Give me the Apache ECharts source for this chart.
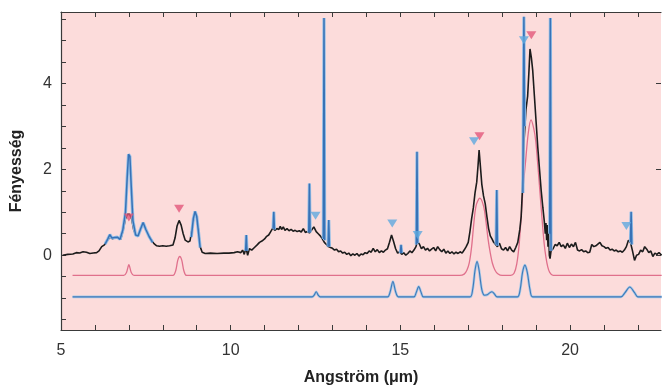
<!DOCTYPE html>
<html>
<head>
<meta charset="utf-8">
<script src="https://cdn.jsdelivr.net/npm/echarts@6/dist/echarts.min.js"></script>
<style>
  html, body { margin: 0; padding: 0; background: #fff; }
  #chart { width: 662px; height: 387px; }
</style>
</head>
<body>
<div id="chart"></div>
<script>
// measured spectrum (black)
var observed = [
  [5.05, 0.0], [5.2, 0.02], [5.35, 0.03], [5.45, 0.06], [5.55, 0.05], [5.65, 0.08], [5.75, 0.07],
  [5.85, 0.04], [5.95, 0.05], [6.05, 0.06], [6.12, 0.1], [6.2, 0.2], [6.28, 0.24], [6.34, 0.32],
  [6.4, 0.38], [6.46, 0.42], [6.52, 0.38], [6.58, 0.41], [6.64, 0.42], [6.7, 0.39], [6.76, 0.37],
  [6.83, 0.58], [6.9, 0.85], [6.96, 0.95], [7.02, 0.95], [7.08, 0.85], [7.14, 0.6], [7.2, 0.47],
  [7.27, 0.44], [7.34, 0.6], [7.42, 0.73], [7.5, 0.6], [7.58, 0.47], [7.66, 0.36], [7.74, 0.27],
  [7.82, 0.22], [7.9, 0.21], [8.0, 0.22], [8.1, 0.21], [8.2, 0.22], [8.3, 0.24], [8.36, 0.4],
  [8.42, 0.68], [8.48, 0.81], [8.54, 0.7], [8.6, 0.5], [8.66, 0.35], [8.74, 0.31], [8.8, 0.33],
  [8.86, 0.6], [8.92, 0.9], [8.96, 0.98], [9.0, 0.9], [9.05, 0.6], [9.1, 0.2], [9.16, 0.07],
  [9.25, 0.04], [9.4, 0.05], [9.6, 0.04], [9.8, 0.05], [9.95, 0.05], [10.1, 0.06], [10.2, 0.08],
  [10.3, 0.06], [10.35, 0.12], [10.4, 0.02], [10.45, 0.18], [10.5, 0.0], [10.55, 0.15], [10.62, 0.12],
  [10.7, 0.18], [10.78, 0.24], [10.85, 0.3], [10.92, 0.33], [11.0, 0.38], [11.06, 0.44], [11.12, 0.47],
  [11.18, 0.55], [11.24, 0.63], [11.3, 0.58], [11.36, 0.62], [11.42, 0.6], [11.46, 0.67], [11.5, 0.6],
  [11.55, 0.66], [11.6, 0.58], [11.66, 0.62], [11.72, 0.57], [11.78, 0.6], [11.84, 0.56], [11.9, 0.58],
  [11.96, 0.55], [12.02, 0.57], [12.08, 0.54], [12.14, 0.62], [12.2, 0.53], [12.26, 0.55], [12.32, 0.52],
  [12.38, 0.58], [12.45, 0.66], [12.52, 0.55], [12.58, 0.5], [12.64, 0.45], [12.7, 0.38], [12.76, 0.3],
  [12.82, 0.25], [12.88, 0.2], [12.94, 0.18], [13.0, 0.16], [13.06, 0.12], [13.12, 0.14], [13.18, 0.08],
  [13.24, 0.1], [13.3, 0.05], [13.36, 0.07], [13.42, 0.02], [13.48, 0.05], [13.54, -0.01], [13.6, 0.03],
  [13.66, 0.0], [13.72, 0.04], [13.78, -0.02], [13.84, 0.03], [13.9, 0.01], [13.96, 0.06], [14.02, 0.04],
  [14.08, 0.1], [14.14, 0.07], [14.2, 0.16], [14.26, 0.08], [14.32, 0.13], [14.38, 0.06], [14.44, 0.1],
  [14.5, 0.07], [14.56, 0.12], [14.62, 0.15], [14.68, 0.3], [14.74, 0.47], [14.8, 0.32], [14.86, 0.15],
  [14.92, 0.05], [14.98, 0.08], [15.04, 0.02], [15.1, 0.06], [15.16, 0.0], [15.22, 0.04], [15.28, 0.1],
  [15.34, 0.06], [15.4, 0.12], [15.46, 0.2], [15.5, 0.32], [15.56, 0.26], [15.62, 0.15], [15.68, 0.2],
  [15.74, 0.12], [15.8, 0.16], [15.86, 0.1], [15.92, 0.14], [15.98, 0.18], [16.04, 0.1], [16.1, 0.2],
  [16.16, 0.13], [16.22, 0.08], [16.28, 0.14], [16.34, 0.05], [16.4, 0.1], [16.46, 0.04], [16.52, 0.08],
  [16.58, 0.03], [16.64, 0.07], [16.7, 0.04], [16.76, 0.08], [16.82, 0.05], [16.88, 0.12], [16.94, 0.2],
  [17.0, 0.3], [17.05, 0.55], [17.1, 0.85], [17.15, 1.1], [17.2, 1.45], [17.25, 1.7], [17.29, 2.1],
  [17.32, 2.45], [17.36, 2.05], [17.4, 1.65], [17.45, 1.38], [17.5, 1.2], [17.55, 0.9], [17.6, 0.62],
  [17.65, 0.45], [17.7, 0.38], [17.75, 0.3], [17.8, 0.26], [17.86, 0.2], [17.92, 0.28], [17.98, 0.15],
  [18.04, 0.12], [18.1, 0.18], [18.16, 0.1], [18.22, 0.2], [18.28, 0.12], [18.34, 0.08], [18.4, 0.18],
  [18.46, 0.3], [18.52, 0.6], [18.56, 0.9], [18.6, 1.6], [18.64, 2.6], [18.7, 3.38], [18.75, 3.7],
  [18.79, 4.3], [18.82, 4.8], [18.86, 4.6], [18.9, 4.3], [18.95, 3.7], [19.0, 3.1], [19.05, 2.5],
  [19.1, 2.0], [19.15, 1.5], [19.2, 1.1], [19.24, 0.8], [19.27, 0.5], [19.29, 0.75], [19.31, 0.35],
  [19.33, 0.7], [19.35, 0.2], [19.37, 0.55], [19.39, 0.0], [19.41, -0.08], [19.44, 0.1], [19.5, 0.15],
  [19.56, 0.25], [19.62, 0.22], [19.68, 0.3], [19.74, 0.2], [19.8, 0.24], [19.86, 0.16], [19.92, 0.28],
  [19.98, 0.18], [20.04, 0.26], [20.1, 0.2], [20.16, 0.3], [20.22, 0.12], [20.28, 0.1], [20.34, 0.13],
  [20.4, 0.08], [20.46, 0.1], [20.52, 0.06], [20.58, 0.07], [20.64, 0.25], [20.7, 0.2], [20.76, 0.22],
  [20.82, 0.26], [20.88, 0.3], [20.94, 0.22], [21.0, 0.2], [21.06, 0.16], [21.12, 0.18], [21.18, 0.12],
  [21.24, 0.14], [21.3, 0.1], [21.36, 0.12], [21.42, 0.08], [21.48, 0.1], [21.54, 0.07], [21.6, 0.12],
  [21.66, 0.2], [21.72, 0.35], [21.78, 0.3], [21.84, 0.1], [21.9, -0.12], [21.96, 0.0], [22.02, 0.02],
  [22.08, 0.12], [22.14, 0.08], [22.2, 0.2], [22.26, 0.14], [22.32, 0.06], [22.38, 0.1], [22.44, -0.03],
  [22.5, 0.05], [22.56, 0.02], [22.62, 0.06], [22.7, 0.0]
];

// high resolution parts (blue, drawn over the black)
var hiRes = [
  [6.3, 0.26], [6.38, 0.38], [6.44, 0.48], [6.5, 0.4], [6.58, 0.41], [6.66, 0.42], [6.74, 0.37],
  [6.82, 0.58], [6.9, 1.0], [6.95, 1.8], [6.99, 2.35], [7.03, 2.3], [7.07, 1.6], [7.12, 0.8],
  [7.2, 0.47], [7.27, 0.45], [7.35, 0.62], [7.42, 0.76], [7.5, 0.6], [7.6, 0.43], [7.7, 0.3],
  [7.75, '-'],
  [8.84, 0.42], [8.9, 0.85], [8.95, 1.02], [9.0, 0.9], [9.05, 0.55], [9.1, 0.18],
  [9.2, '-'],
  [10.44, 0.1], [10.46, 0.47], [10.48, 0.1], [10.6, '-'],
  [11.25, 0.62], [11.27, 1.01], [11.29, 0.6], [11.4, '-'],
  [12.3, 0.53], [12.32, 1.67], [12.34, 0.53], [12.5, '-'],
  [12.73, 0.38], [12.75, 5.52], [12.77, 0.35], [12.8, '-'],
  [12.87, 0.2], [12.89, 0.82], [12.91, 0.2], [13.0, '-'],
  [15.0, 0.05], [15.02, 0.24], [15.04, 0.05], [15.2, '-'],
  [15.47, 0.25], [15.49, 2.41], [15.51, 0.28], [15.6, '-'],
  [17.82, 0.25], [17.84, 1.52], [17.86, 0.22], [18.0, '-'],
  [18.61, 1.45], [18.64, 5.55], [18.66, 3.0], [18.8, '-'],
  [19.4, 0.5], [19.42, 5.52], [19.44, 0.1], [19.6, '-'],
  [21.78, 0.3], [21.8, 1.01], [21.82, 0.25]
];

// fitted model, shifted down (pink)
var modelPink = [
  [5.34, -0.47], [6.85, -0.47], [6.93, -0.4], [7.0, -0.22], [7.07, -0.4], [7.15, -0.47],
  [8.3, -0.47], [8.38, -0.36], [8.44, -0.12], [8.5, -0.03], [8.56, -0.12], [8.62, -0.36], [8.7, -0.47],
  [16.75, -0.47], [16.88, -0.44], [16.96, -0.35], [17.03, -0.18], [17.1, 0.2], [17.16, 0.7],
  [17.23, 1.15], [17.34, 1.33], [17.45, 1.15], [17.52, 0.8], [17.58, 0.4], [17.65, 0.05],
  [17.71, -0.18], [17.79, -0.35], [17.87, -0.43], [18.0, -0.47], [18.25, -0.47], [18.35, -0.42],
  [18.43, -0.2], [18.5, 0.25], [18.56, 0.9], [18.62, 1.6], [18.68, 2.1], [18.77, 2.85], [18.85, 3.15],
  [18.93, 2.95], [18.99, 2.65], [19.06, 2.0], [19.13, 1.3], [19.19, 0.7], [19.24, 0.25], [19.29, -0.05],
  [19.34, -0.26], [19.4, -0.4], [19.5, -0.47], [22.7, -0.47]
];

// second model, shifted down (blue)
var modelBlue = [
  [5.34, -0.97], [12.4, -0.97], [12.46, -0.93], [12.52, -0.85], [12.58, -0.93], [12.64, -0.97],
  [14.62, -0.97], [14.7, -0.85], [14.78, -0.61], [14.86, -0.85], [14.94, -0.97],
  [15.4, -0.97], [15.47, -0.86], [15.54, -0.73], [15.61, -0.86], [15.68, -0.97],
  [17.05, -0.97], [17.13, -0.8], [17.2, -0.35], [17.26, -0.15], [17.32, -0.35], [17.4, -0.8],
  [17.48, -0.93], [17.56, -0.92], [17.64, -0.87], [17.7, -0.85], [17.77, -0.9], [17.85, -0.97],
  [18.45, -0.97], [18.53, -0.8], [18.6, -0.4], [18.67, -0.23], [18.74, -0.4], [18.82, -0.8], [18.9, -0.97],
  [21.5, -0.97], [21.62, -0.87], [21.76, -0.74], [21.9, -0.87], [22.0, -0.97], [22.7, -0.97]
];

var pinkMarks = [[7.0, 0.88], [8.48, 1.08], [17.33, 2.77], [18.86, 5.12]];
var blueMarks = [[12.5, 0.92], [14.76, 0.74], [15.51, 0.47], [17.17, 2.65], [18.64, 5.0], [21.66, 0.68]];

var xLabels = [5, 10, 15, 20];
var xTicks = [6, 7, 8, 9, 10, 11, 12, 13, 14, 15, 16, 17, 18, 19, 20, 21, 22];
var yLabels = [0, 2, 4];
var yTicks = [-1.5, -1, -0.5, 0, 0.5, 1, 1.5, 2, 2.5, 3, 3.5, 4, 4.5, 5, 5.5];

var X_MIN = 5, X_MAX = 22.68, Y_MIN = -1.74, Y_MAX = 5.66;
var axisColor = '#3a3a3a';
var font = '"Liberation Sans", Arial, sans-serif';

var chart = echarts.init(document.getElementById('chart'));

chart.setOption({
  animation: false,
  backgroundColor: '#fff',
  grid: {
    left: 61, right: 1, top: 12, bottom: 57,
    outerBoundsMode: 'none',
    containLabel: false,
    show: true,
    backgroundColor: '#fcdcdb',
    borderWidth: 0
  },
  xAxis: [{
    type: 'value',
    position: 'bottom',
    min: X_MIN, max: X_MAX,
    name: 'Angström (μm)',
    nameLocation: 'middle',
    nameGap: 40,
    nameTextStyle: { fontFamily: font, fontSize: 16, fontWeight: 'bold', color: '#222' },
    axisLine: { show: true, onZero: false, lineStyle: { color: axisColor, width: 1.2 } },
    axisTick: { show: true, inside: true, length: 5, customValues: xTicks, lineStyle: { color: axisColor } },
    axisLabel: { customValues: xLabels, margin: 13, fontFamily: font, fontSize: 16, color: '#333' },
    splitLine: { show: false }
  }, {
    type: 'value',
    position: 'top',
    min: X_MIN, max: X_MAX,
    axisLine: { show: true, onZero: false, lineStyle: { color: axisColor, width: 1.2 } },
    axisTick: { show: true, inside: true, length: 5, customValues: xTicks, lineStyle: { color: axisColor } },
    axisLabel: { show: false },
    splitLine: { show: false }
  }],
  yAxis: [{
    type: 'value',
    position: 'left',
    min: Y_MIN, max: Y_MAX,
    name: 'Fényesség',
    nameLocation: 'middle',
    nameRotate: 90,
    nameGap: 36,
    nameTextStyle: { fontFamily: font, fontSize: 16, fontWeight: 'bold', color: '#222' },
    axisLine: { show: true, onZero: false, lineStyle: { color: axisColor, width: 1.2 } },
    axisTick: { show: true, inside: true, length: 5, customValues: yTicks, lineStyle: { color: axisColor } },
    axisLabel: { customValues: yLabels, margin: 9, fontFamily: font, fontSize: 16, color: '#333' },
    splitLine: { show: false }
  }, {
    type: 'value',
    position: 'right',
    min: Y_MIN, max: Y_MAX,
    axisLine: { show: false, onZero: false },
    axisTick: { show: true, inside: true, length: 5, customValues: yLabels, lineStyle: { color: axisColor } },
    axisLabel: { show: false },
    splitLine: { show: false }
  }],
  series: [{
    type: 'line',
    data: modelPink,
    smooth: 0.3,
    showSymbol: false,
    lineStyle: { color: '#e0708c', width: 1.3 },
    z: 2
  }, {
    type: 'line',
    data: modelBlue,
    smooth: 0.3,
    showSymbol: false,
    lineStyle: { color: '#a6c9e8', width: 2.6 },
    z: 2
  }, {
    type: 'line',
    data: modelBlue,
    smooth: 0.3,
    showSymbol: false,
    lineStyle: { color: '#3f78b8', width: 1.1 },
    z: 3
  }, {
    type: 'line',
    data: observed,
    showSymbol: false,
    lineStyle: { color: '#1c1c1c', width: 1.6 },
    z: 4
  }, {
    type: 'line',
    data: hiRes,
    showSymbol: false,
    connectNulls: false,
    lineStyle: { color: '#95c0e8', width: 3.2 },
    z: 5
  }, {
    type: 'line',
    data: hiRes,
    showSymbol: false,
    connectNulls: false,
    lineStyle: { color: '#3872b6', width: 1.5 },
    z: 6
  }, {
    type: 'scatter',
    data: pinkMarks,
    symbol: 'triangle',
    symbolRotate: 180,
    symbolSize: [10, 8],
    itemStyle: { color: '#e2577a' },
    z: 7
  }, {
    type: 'scatter',
    data: blueMarks,
    symbol: 'triangle',
    symbolRotate: 180,
    symbolSize: [10, 8],
    itemStyle: { color: '#5fa9df' },
    z: 8
  }]
});
</script>
</body>
</html>
